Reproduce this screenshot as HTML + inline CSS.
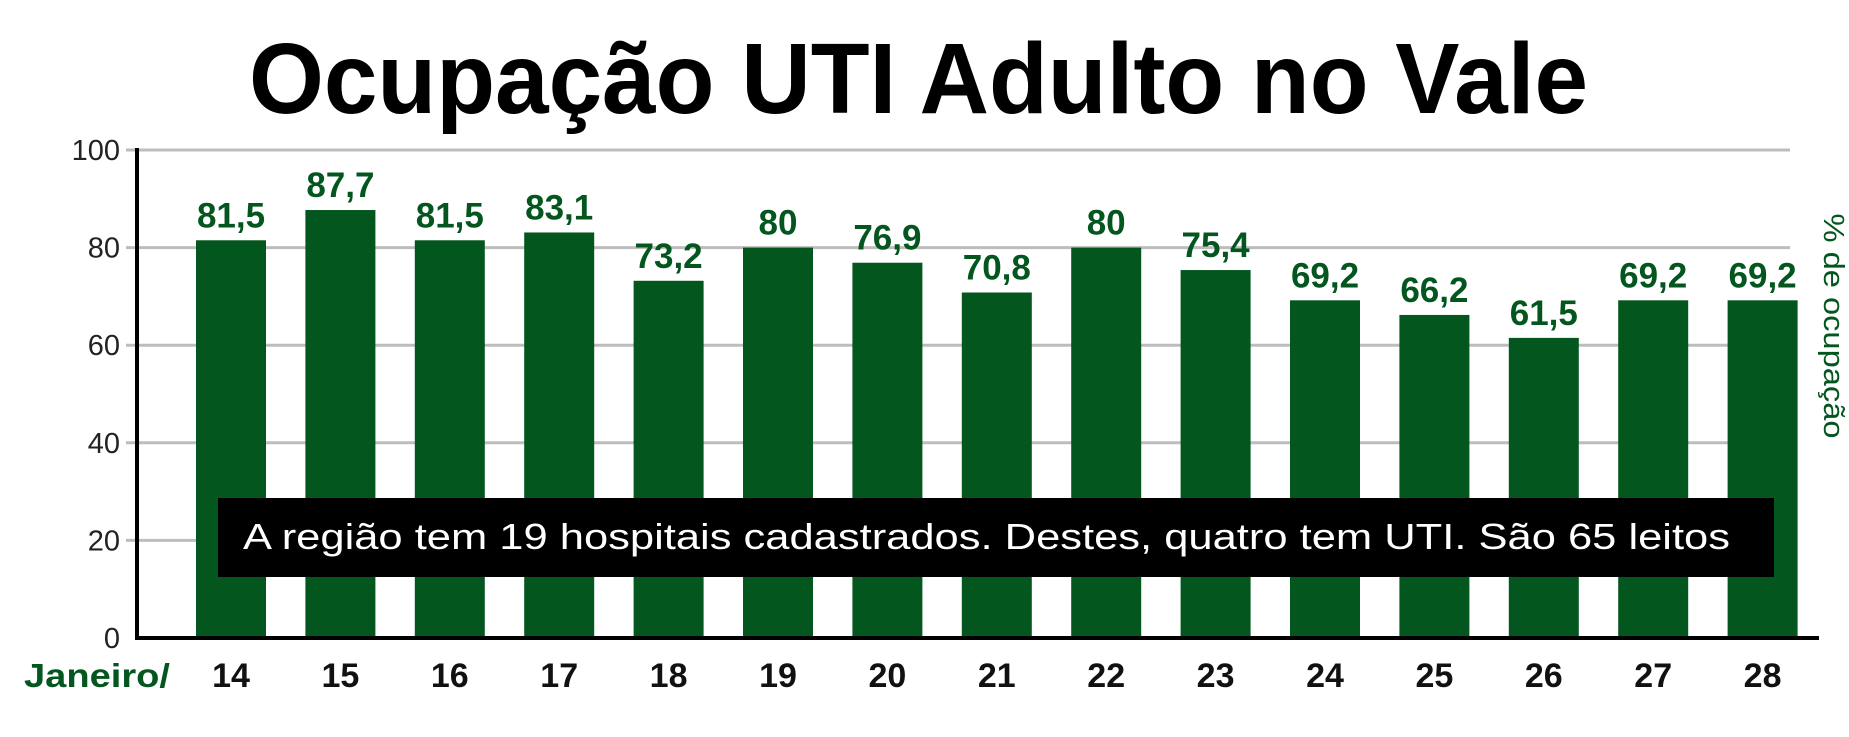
<!DOCTYPE html>
<html><head><meta charset="utf-8"><style>
html,body{margin:0;padding:0;background:#fff;width:1849px;height:737px;overflow:hidden}
svg{display:block}
</style></head><body>
<svg id="chart" width="1849" height="737" viewBox="0 0 1849 737" font-family="'Liberation Sans', sans-serif">
<text x="249" y="113" font-size="100" font-weight="bold" textLength="1339" lengthAdjust="spacingAndGlyphs">Ocupação UTI Adulto no Vale</text>
<g id="grid"></g>
<g id="bars"></g>
<g id="labels"></g>
<line x1="137" y1="148" x2="137" y2="640" stroke="#000" stroke-width="4"/>
<line x1="135" y1="638" x2="1819" y2="638" stroke="#000" stroke-width="4"/>
<rect x="218" y="498" width="1556" height="79" fill="#000"/>
<text x="243" y="549" font-size="36" fill="#fff" textLength="1487" lengthAdjust="spacingAndGlyphs">A região tem 19 hospitais cadastrados. Destes, quatro tem UTI. São 65 leitos</text>
<text x="24" y="687" font-size="33" font-weight="bold" fill="#04561f" textLength="146" lengthAdjust="spacingAndGlyphs">Janeiro/</text>
<text transform="translate(1824,326) rotate(90)" text-anchor="middle" font-size="29" fill="#04561f" textLength="225" lengthAdjust="spacingAndGlyphs">% de ocupação</text>
</svg>
<script>
const categories=["14","15","16","17","18","19","20","21","22","23","24","25","26","27","28"];
const values=[81.5,87.7,81.5,83.1,73.2,80,76.9,70.8,80,75.4,69.2,66.2,61.5,69.2,69.2];
const valueLabels=["81,5","87,7","81,5","83,1","73,2","80","76,9","70,8","80","75,4","69,2","66,2","61,5","69,2","69,2"];
const yTicks=[0,20,40,60,80,100];
const NS="http://www.w3.org/2000/svg";
const y0=638,y100=150,x0=196,pitch=109.4,bw=70;
const yS=v=>y0-(y0-y100)*v/100;
const xS=i=>x0+i*pitch;
function mk(t,a,p){const e=document.createElementNS(NS,t);for(const k in a)e.setAttribute(k,a[k]);p.appendChild(e);return e;}
const grid=document.getElementById('grid'),bars=document.getElementById('bars'),labels=document.getElementById('labels');
yTicks.forEach(t=>{
  if(t>0){const l=mk('line',{x1:126,x2:1790,y1:yS(t),y2:yS(t),stroke:'#bdbdbd','stroke-width':3},grid);
  
  }
  const tx=mk('text',{x:120,y:yS(t)+10,'text-anchor':'end','font-size':29,fill:'#222'},labels);
  tx.textContent=t;
  
  
});
categories.forEach((c,i)=>{
  const r=mk('rect',{x:xS(i),y:yS(values[i]),width:bw,height:y0-yS(values[i]),fill:'#04561f'},bars);
  
  
  const v=mk('text',{x:xS(i)+bw/2,y:yS(values[i])-13,'text-anchor':'middle','font-size':35,'font-weight':'bold',fill:'#04561f'},labels);
  v.textContent=valueLabels[i];
  
  
  const x=mk('text',{x:xS(i)+bw/2,y:687,'text-anchor':'middle','font-size':34,'font-weight':'bold',fill:'#111'},labels);
  x.textContent=c;
  
  
});
</script>
</body></html>
